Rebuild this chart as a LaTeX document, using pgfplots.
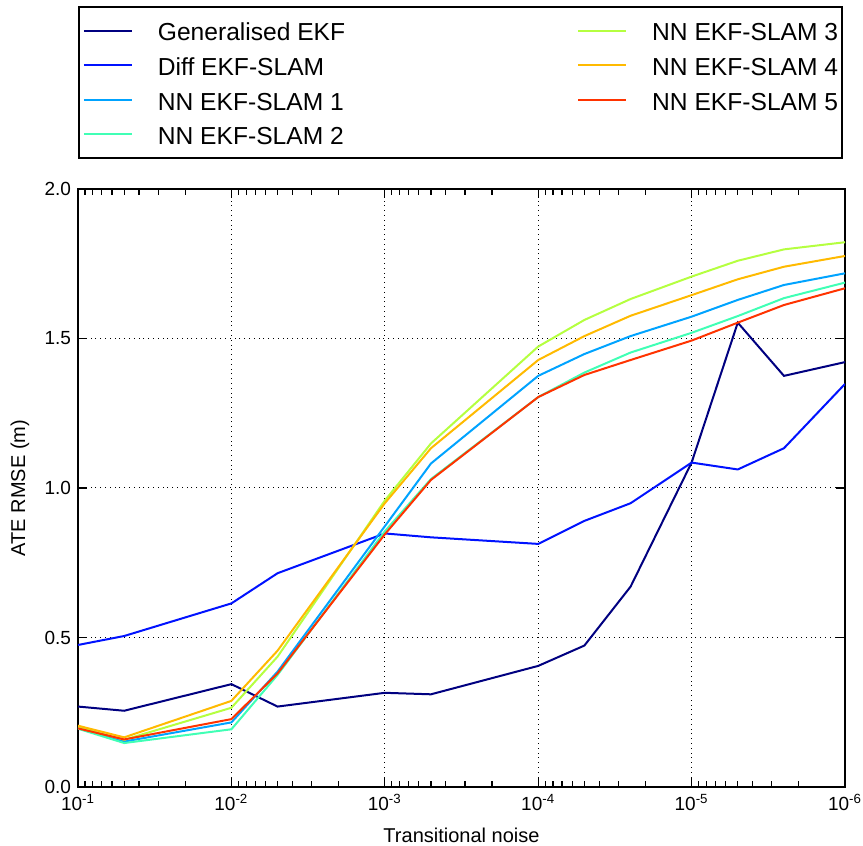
\documentclass[border=0pt]{standalone}
\usepackage{fontspec}
\setmainfont{Liberation Sans}
\usepackage{pgfplots}
\pgfplotsset{compat=1.18}
\usepackage{pgfplotstable}

\definecolor{c0}{rgb}{0,0,0.5}
\definecolor{c1}{rgb}{0,0.07,1}
\definecolor{c2}{rgb}{0,0.64,1}
\definecolor{c3}{rgb}{0.25,1,0.71}
\definecolor{c4}{rgb}{0.71,1,0.25}
\definecolor{c5}{rgb}{1,0.73,0}
\definecolor{c6}{rgb}{1,0.2,0}

\pgfplotstableread{
x      ge     diff   nn1    nn2    nn3    nn4    nn5
1e-1   0.269  0.475  0.197  0.195  0.200  0.205  0.196
5e-2   0.255  0.505  0.152  0.147  0.158  0.166  0.159
1e-2   0.344  0.614  0.216  0.193  0.265  0.288  0.227
5e-3   0.269  0.715  0.386  0.375  0.436  0.456  0.380
1e-3   0.315  0.848  0.872  0.855  0.958  0.949  0.845
5e-4   0.310  0.835  1.082  1.030  1.149  1.133  1.027
1e-4   0.405  0.813  1.375  1.304  1.473  1.428  1.304
5e-5   0.473  0.890  1.448  1.386  1.562  1.508  1.378
2.5e-5 0.670  0.949  1.508  1.453  1.632  1.576  1.428
1e-5   1.085  1.085  1.573  1.519  1.707  1.645  1.493
5e-6   1.553  1.062  1.629  1.575  1.760  1.698  1.553
2.5e-6 1.375  1.133  1.679  1.635  1.798  1.740  1.612
1e-6   1.421  1.348  1.718  1.687  1.822  1.776  1.668
}\data

\begin{document}
\begin{tikzpicture}
\begin{axis}[
  name=ax,
  scale only axis, width=383.5pt, height=299pt,
  xmode=log, x dir=reverse, xmin=1e-6, xmax=1e-1,
  ymin=0, ymax=2, ytick={0,0.5,1,1.5,2},
  xtick={1e-6,1e-5,1e-4,1e-3,1e-2,1e-1},
  xticklabels={10\textsuperscript{-6},10\textsuperscript{-5},10\textsuperscript{-4},10\textsuperscript{-3},10\textsuperscript{-2},10\textsuperscript{-1}},
  minor xtick={2e-6,3e-6,4e-6,5e-6,6e-6,7e-6,8e-6,9e-6,
               2e-5,3e-5,4e-5,5e-5,6e-5,7e-5,8e-5,9e-5,
               2e-4,3e-4,4e-4,5e-4,6e-4,7e-4,8e-4,9e-4,
               2e-3,3e-3,4e-3,5e-3,6e-3,7e-3,8e-3,9e-3,
               2e-2,3e-2,4e-2,5e-2,6e-2,7e-2,8e-2,9e-2},
  /pgf/number format/assume math mode=true,
  yticklabel style={/pgf/number format/fixed, /pgf/number format/fixed zerofill, /pgf/number format/precision=1},
  grid=major, grid style={black, dotted, line width=0.5pt},
  axis line style={line width=0.9pt},
  tick style={black, line width=0.6pt},
  tick label style={font=\fontsize{9.5}{11}\selectfont},
  label style={font=\fontsize{10}{12}\selectfont},
  xlabel={Transitional noise}, ylabel={ATE RMSE (m)},
  xlabel style={at={(axis description cs:0.5,-0.0803)}, anchor=center},
  ylabel style={at={(axis description cs:-0.0756,0.5)}, anchor=center},
  every axis plot/.append style={line width=1pt},
  legend columns=2,
  legend image code/.code={\path (0pt,0pt) -- (6pt,0pt);\draw[#1] (6pt,0pt) -- (24pt,0pt);},
  legend style={at={(axis description cs:0,1.306)}, anchor=north west,
    draw=black, line width=0.9pt,
    font=\fontsize{12.3}{14}\selectfont,
    inner xsep=2pt, inner ysep=5pt, row sep=3.7pt,
    nodes={inner xsep=0pt, inner ysep=0pt, text height=12pt, text depth=1.6pt},
    /tikz/every odd column/.append style={column sep=12.5pt},
    /tikz/every even column/.append style={column sep=116pt},
    cells={anchor=west}},
]
\addplot[c0, forget plot] table[x=x, y=ge] {\data};
\addplot[c1, forget plot] table[x=x, y=diff] {\data};
\addplot[c2, forget plot] table[x=x, y=nn1] {\data};
\addplot[c3, forget plot] table[x=x, y=nn2] {\data};
\addplot[c4, forget plot] table[x=x, y=nn3] {\data};
\addplot[c5, forget plot] table[x=x, y=nn4] {\data};
\addplot[c6, forget plot] table[x=x, y=nn5] {\data};
\addlegendimage{c0, line width=1pt}\addlegendentry{Generalised EKF}
\addlegendimage{c4, line width=1pt}\addlegendentry{NN EKF-SLAM 3}
\addlegendimage{c1, line width=1pt}\addlegendentry{Diff EKF-SLAM}
\addlegendimage{c5, line width=1pt}\addlegendentry{NN EKF-SLAM 4}
\addlegendimage{c2, line width=1pt}\addlegendentry{NN EKF-SLAM 1}
\addlegendimage{c6, line width=1pt}\addlegendentry{NN EKF-SLAM 5}
\addlegendimage{c3, line width=1pt}\addlegendentry{NN EKF-SLAM 2}
\end{axis}
\pgfresetboundingbox
\path[use as bounding box] ([shift={(-39pt,-29.5pt)}]ax.south west) rectangle ([shift={(9pt,94.5pt)}]ax.north east);
\end{tikzpicture}
\end{document}
